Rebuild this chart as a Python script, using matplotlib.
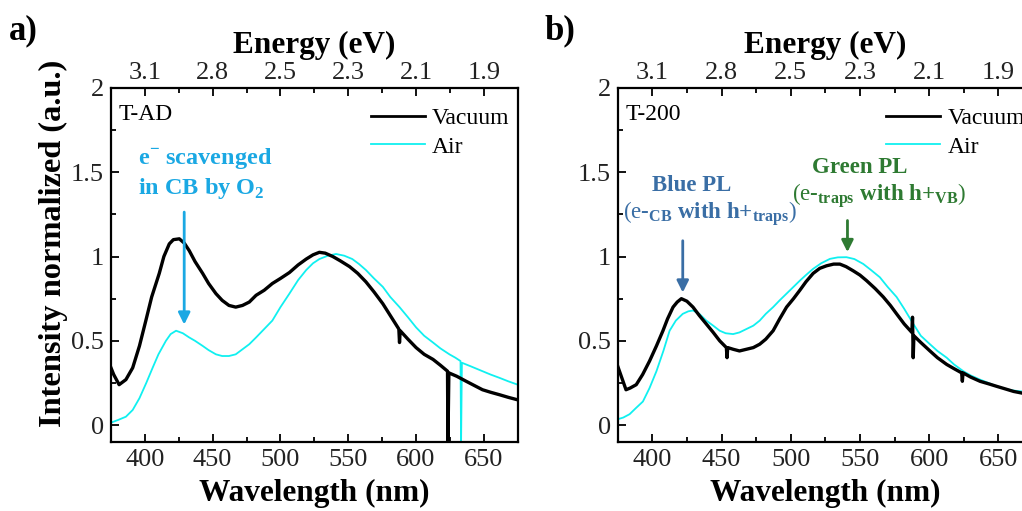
import matplotlib
matplotlib.use("Agg")
from matplotlib import pyplot as plt
from matplotlib.ticker import MultipleLocator

plt.rcParams["font.family"] = ["Liberation Serif", "DejaVu Serif"]
plt.rcParams["mathtext.fontset"] = "custom"
plt.rcParams["mathtext.rm"] = "Liberation Serif"
plt.rcParams["mathtext.bf"] = "Liberation Serif:bold"

# ---- data ----
# panel a) T-AD
a_vac_wl = [375, 377, 381, 386, 391, 396, 400.7, 405, 410.6, 414, 418, 421, 425.4, 429,
            432.7, 437, 442.6, 447, 452.4, 457, 462, 467, 472, 477, 482, 488, 494,
            500, 506.6, 513, 519, 524, 528.7, 533, 538.6, 544, 551, 557, 563, 569,
            575.5, 581, 587.3, 587.8, 588.3, 594, 600, 606, 612.5, 618, 623.2, 623.5,
            624.2, 630, 637, 643, 649, 655, 661.7, 668, 675]
a_vac_int = [0.34, 0.30, 0.24, 0.27, 0.34, 0.47, 0.62, 0.76, 0.90, 1.00, 1.075, 1.10, 1.105, 1.08,
             1.035, 0.97, 0.90, 0.84, 0.78, 0.74, 0.71, 0.70, 0.71, 0.73, 0.77, 0.80, 0.84,
             0.87, 0.905, 0.95, 0.985, 1.01, 1.025, 1.02, 1.0, 0.975, 0.94, 0.90, 0.85, 0.79,
             0.72, 0.65, 0.57, 0.49, 0.56, 0.51, 0.46, 0.42, 0.39, 0.355, 0.32, -0.11,
             0.31, 0.29, 0.26, 0.235, 0.21, 0.195, 0.18, 0.165, 0.15]
a_air_wl = [375, 380, 386, 391, 396, 401, 405.7, 410, 415.5, 419, 423, 428, 432.7, 437,
            442.6, 447, 452.4, 457, 462, 467, 472, 477, 482, 488, 494, 500, 506.6, 513,
            519, 524, 528.7, 535, 541, 547, 553, 558, 563, 569, 575.5, 581, 587.8, 594,
            600, 606, 612.5, 618, 624.6, 629, 632.8, 633.2, 633.8, 640, 649, 655, 661.7,
            668, 675]
a_air_int = [0.015, 0.03, 0.05, 0.09, 0.16, 0.25, 0.34, 0.42, 0.50, 0.54, 0.56, 0.545, 0.52, 0.50,
             0.47, 0.445, 0.42, 0.41, 0.41, 0.42, 0.45, 0.48, 0.52, 0.57, 0.62, 0.70, 0.78, 0.86,
             0.92, 0.96, 0.985, 1.005, 1.015, 1.005, 0.985, 0.955, 0.92, 0.87, 0.82, 0.76, 0.70, 0.64,
             0.58, 0.53, 0.49, 0.455, 0.42, 0.40, 0.38, -0.11, 0.37, 0.35, 0.32, 0.30, 0.28,
             0.26, 0.24]

# panel b) T-200
b_vac_wl = [375, 378, 381, 384, 388.4, 393, 398, 403, 407.7, 411, 415, 418, 421, 425,
            429.4, 434, 439, 444, 448.7, 453.5, 454, 454.5, 458.4, 463, 468, 473, 477.6,
            482, 487.3, 492, 497, 502, 506.6, 511, 516.2, 521, 525.9, 531, 535.5, 540,
            545.2, 550, 554.8, 561, 566.9, 572, 576.5, 582, 587.5, 588, 588.5, 589, 594,
            600.6, 606, 612.7, 618, 623.5, 624, 624.5, 630, 636.8, 643, 648.9, 655, 661,
            667.2, 675]
b_vac_int = [0.35, 0.28, 0.21, 0.22, 0.24, 0.30, 0.38, 0.47, 0.56, 0.63, 0.70, 0.73, 0.75, 0.735,
             0.70, 0.65, 0.60, 0.55, 0.50, 0.46, 0.40, 0.46, 0.45, 0.44, 0.45, 0.46, 0.48,
             0.51, 0.56, 0.63, 0.70, 0.75, 0.80, 0.85, 0.90, 0.93, 0.945, 0.955, 0.955, 0.94,
             0.915, 0.89, 0.857, 0.81, 0.76, 0.71, 0.66, 0.60, 0.55, 0.64, 0.40, 0.53, 0.49,
             0.44, 0.40, 0.36, 0.335, 0.31, 0.26, 0.31, 0.285, 0.26, 0.245, 0.23, 0.215, 0.20,
             0.19, 0.175]
b_air_wl = [375, 379, 383.6, 388, 393.2, 398, 403, 408, 412.5, 417, 422, 426, 429.4, 434,
            439, 444, 448.7, 453, 458.4, 463, 468, 473, 477.6, 482, 487.3, 492, 497,
            502, 506.6, 511, 516.2, 522, 528.3, 534, 540.3, 546, 552.4, 558, 564.4, 570,
            576.5, 582, 588.6, 594, 600.6, 606, 612.7, 618, 624.7, 630, 636.8, 643,
            648.9, 655, 661, 667.2, 675]
b_air_int = [0.035, 0.045, 0.065, 0.10, 0.14, 0.22, 0.32, 0.44, 0.56, 0.62, 0.66, 0.675, 0.68, 0.66,
             0.62, 0.59, 0.56, 0.545, 0.54, 0.55, 0.57, 0.59, 0.62, 0.66, 0.70, 0.74, 0.78,
             0.82, 0.857, 0.89, 0.927, 0.96, 0.986, 0.995, 0.996, 0.985, 0.956, 0.92, 0.877, 0.82,
             0.76, 0.69, 0.60, 0.53, 0.48, 0.44, 0.40, 0.36, 0.32, 0.295, 0.27, 0.25,
             0.23, 0.215, 0.205, 0.20, 0.19]

wl_ticks = [400, 450, 500, 550, 600, 650]
energy_labels = ["3.1", "2.8", "2.5", "2.3", "2.1", "1.9"]
int_ticks = [0, 0.5, 1, 1.5, 2]
int_labels = ["0", "0.5", "1", "1.5", "2"]

VAC = "black"
AIR = "#10f0f0"
TICK_COL = "#222222"
ARROW = "-|>,head_length=0.7,head_width=0.35"


def style_axes(ax, ylabel=True):
    ax.set_xlim(375, 675)
    ax.set_ylim(-0.1, 2)
    ax.set_xticks(wl_ticks)
    ax.xaxis.set_minor_locator(MultipleLocator(25))
    ax.set_yticks(int_ticks)
    ax.set_yticklabels(int_labels)
    ax.yaxis.set_minor_locator(MultipleLocator(0.25))
    ax.tick_params(which="both", direction="in", width=1.3, colors="black",
                   labelsize=19, labelcolor=TICK_COL, top=True, pad=5)
    ax.tick_params(which="major", length=6)
    ax.tick_params(which="minor", length=3.5)
    for sp in ax.spines.values():
        sp.set_linewidth(1.6)
    ax.set_xlabel("Wavelength (nm)", fontsize=22.5, fontweight="bold", labelpad=6)
    if ylabel:
        ax.set_ylabel("Intensity normalized (a.u.)", fontsize=23.3, fontweight="bold")
        ax.yaxis.set_label_coords(-0.106, 0.56)
    top = ax.secondary_xaxis("top")
    top.set_xticks(wl_ticks)
    top.set_xticklabels(energy_labels)
    top.tick_params(direction="in", length=0, labelsize=19, labelcolor=TICK_COL, pad=3)
    top.spines["top"].set_visible(False)
    top.set_xlabel("Energy (eV)", fontsize=22.5, fontweight="bold", labelpad=6)


fig = plt.figure(figsize=(10.22, 5.11), dpi=100)
ax_a = fig.add_axes([0.1086, 0.135, 0.398, 0.693])
ax_b = fig.add_axes([0.6044, 0.135, 0.4063, 0.693])

for ax, vw, vi, aw, ai in [(ax_a, a_vac_wl, a_vac_int, a_air_wl, a_air_int),
                           (ax_b, b_vac_wl, b_vac_int, b_air_wl, b_air_int)]:
    ax.plot(vw, vi, color=VAC, lw=2.4, label="Vacuum", zorder=3)
    ax.plot(aw, ai, color=AIR, lw=1.3, label="Air", zorder=2)
    leg = ax.legend(loc="upper right", frameon=False, fontsize=17, handlelength=2.3,
                    handletextpad=0.3, labelspacing=0.3, borderaxespad=0.2,
                    bbox_to_anchor=(1.015, 0.985))
    leg.get_lines()[0].set_linewidth(2.0)

style_axes(ax_a, ylabel=True)
style_axes(ax_b, ylabel=False)

ax_a.text(0.018, 0.955, "T-AD", transform=ax_a.transAxes, fontsize=17, va="top", ha="left")
ax_b.text(0.018, 0.955, "T-200", transform=ax_b.transAxes, fontsize=17, va="top", ha="left")

# annotations panel a
ca = "#1aa8e3"
ax_a.text(395, 1.49, "e$^{\\mathbf{-}}$ scavenged\nin CB by O$_\\mathbf{2}$", color=ca,
          fontsize=17.5, fontweight="bold", ha="left", va="center", linespacing=1.2)
ax_a.annotate("", xy=(429, 0.58), xytext=(429, 1.28),
              arrowprops=dict(arrowstyle=ARROW, color=ca, lw=2))

# annotations panel b
cb = "#3a6ea5"
cg = "#2e7a32"
ax_b.text(428.4, 1.42, "Blue PL", color=cb, fontsize=16.5, fontweight="bold",
          ha="center", va="center")
ax_b.text(441.5, 1.25, "$\\mathrm{(e}$-$_{\\mathbf{CB}}$ with h+$_{\\mathbf{traps}}$$\\mathrm{)}$",
          color=cb, fontsize=16.5, fontweight="bold", ha="center", va="center")
ax_b.annotate("", xy=(422, 0.77), xytext=(422, 1.11),
              arrowprops=dict(arrowstyle=ARROW, color=cb, lw=2))
ax_b.text(550, 1.53, "Green PL", color=cg, fontsize=16.5, fontweight="bold",
          ha="center", va="center")
ax_b.text(564, 1.36, "$\\mathrm{(e}$-$_{\\mathbf{traps}}$ with h+$_{\\mathbf{VB}}$$\\mathrm{)}$",
          color=cg, fontsize=16.5, fontweight="bold", ha="center", va="center")
ax_b.annotate("", xy=(541, 1.01), xytext=(541, 1.23),
              arrowprops=dict(arrowstyle=ARROW, color=cg, lw=2))

fig.text(0.009, 0.94, "a)", fontsize=25, fontweight="bold", ha="left", va="center")
fig.text(0.533, 0.94, "b)", fontsize=25, fontweight="bold", ha="left", va="center")

fig.savefig("out.png", dpi=100)
